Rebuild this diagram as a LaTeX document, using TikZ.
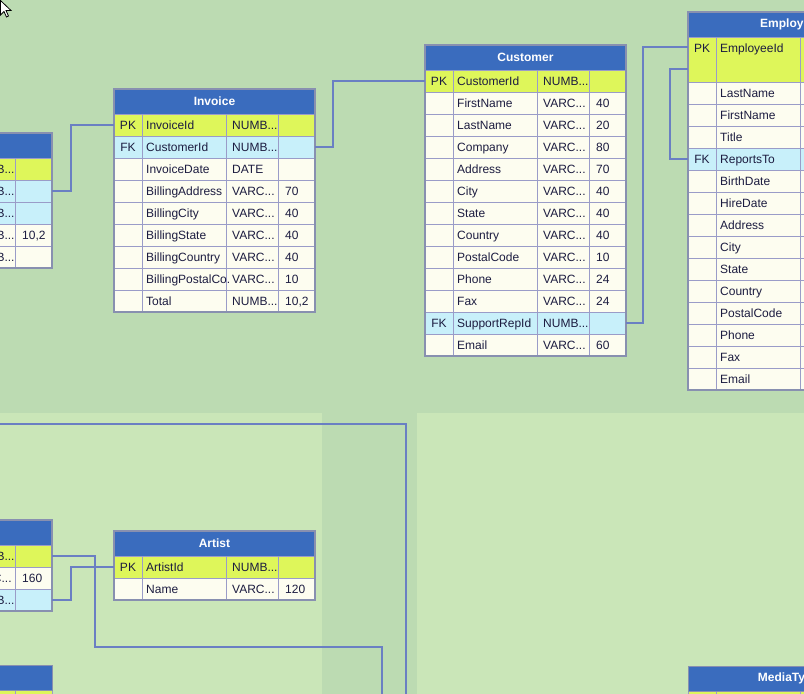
\documentclass[tikz,border=0pt]{standalone}
\usepackage{fontspec}
\setmainfont{Liberation Sans}
\usetikzlibrary{calc}
\definecolor{bgmid}{HTML}{BCDBB2}
\definecolor{bglight}{HTML}{CAE6B8}
\definecolor{hdrblue}{HTML}{3A6CBE}
\definecolor{pkfill}{HTML}{DEF65A}
\definecolor{fkfill}{HTML}{C8F0FA}
\definecolor{plainfill}{HTML}{FDFDF0}
\definecolor{cellline}{HTML}{9A9CC8}
\definecolor{tabborder}{HTML}{8890B0}
\definecolor{connblue}{HTML}{6A7FC3}
\definecolor{txt}{HTML}{1C1C40}
\tikzset{
 rowbox/.style={draw=cellline, line width=1pt, minimum width=201pt, anchor=north west, inner sep=0pt, outer sep=0pt},
 pkrow/.style={fill=pkfill}, fkrow/.style={fill=fkfill}, plainrow/.style={fill=plainfill},
 sepline/.style={draw=cellline, line width=1pt},
 celltext/.style={anchor=west, inner sep=0pt, text height=8.6pt, text depth=0pt, text=txt, font=\fontsize{12}{14}\selectfont},
 keytext/.style={celltext, anchor=center},
 headbox/.style={draw=tabborder, fill=hdrblue, line width=1pt, minimum width=201pt, minimum height=25pt, anchor=north west, inner sep=0pt, outer sep=0pt, text=white, font=\bfseries\fontsize{12}{14}\selectfont},
 tabframe/.style={draw=tabborder, line width=1.6pt},
 conn/.style={draw=connblue, line width=1.6pt}
}
% #1 name #2 x #3 y #4 fill style #5 key #6 field #7 type #8 size #9 height
\newcommand\erow[9]{%
 \node[rowbox,#4,minimum height=#9pt] (#1) at (#2,#3) {};
 \draw[sepline] (#2+28,#3) -- ++(0,#9) (#2+112,#3) -- ++(0,#9) (#2+164,#3) -- ++(0,#9);
 \node[keytext] (#1k) at (#2+14,#3+11) {#5};
 \node[celltext] (#1f) at (#2+32,#3+11) {#6};
 \node[celltext] (#1t) at (#2+118,#3+11) {#7};
 \node[celltext] (#1s) at (#2+171,#3+11) {#8};
}
\newcommand\ehead[4]{\node[headbox] (#1) at (#2,#3) {#4};}
\newcommand\eframe[3]{\draw[tabframe] (#1,#2) rectangle (#1+201,#3);}
\begin{document}
\begin{tikzpicture}[x=1pt,y=-1pt]
\useasboundingbox (0,0) rectangle (804,694);
\clip (0,0) rectangle (804,694);
% background
\fill[bgmid] (0,0) rectangle (804,694);
\fill[bglight] (0,413) rectangle (322,694);
\fill[bglight] (417,413) rectangle (804,694);
% free ends
\coordinate (c6end) at (382,700);
\coordinate (c7a) at (-10,424);
\coordinate (c7b) at (406,700);
% ---------------- InvoiceLine (cut off left)
\ehead{ilh}{-149}{133}{}
\erow{il1}{-149}{158}{pkrow}{}{}{NUMB...}{}{22}
\erow{il2}{-149}{180}{fkrow}{}{}{NUMB...}{}{22}
\erow{il3}{-149}{202}{fkrow}{}{}{NUMB...}{}{22}
\erow{il4}{-149}{224}{plainrow}{}{}{NUMB...}{10,2}{22}
\erow{il5}{-149}{246}{plainrow}{}{}{NUMB...}{}{22}
\eframe{-149}{133}{268}
% ---------------- Invoice
\ehead{invh}{114}{89}{Invoice}
\erow{inv1}{114}{114}{pkrow}{PK}{InvoiceId}{NUMB...}{}{22}
\erow{inv2}{114}{136}{fkrow}{FK}{CustomerId}{NUMB...}{}{22}
\erow{inv3}{114}{158}{plainrow}{}{InvoiceDate}{DATE}{}{22}
\erow{inv4}{114}{180}{plainrow}{}{BillingAddress}{VARC...}{70}{22}
\erow{inv5}{114}{202}{plainrow}{}{BillingCity}{VARC...}{40}{22}
\erow{inv6}{114}{224}{plainrow}{}{BillingState}{VARC...}{40}{22}
\erow{inv7}{114}{246}{plainrow}{}{BillingCountry}{VARC...}{40}{22}
\erow{inv8}{114}{268}{plainrow}{}{BillingPostalCo.}{VARC...}{10}{22}
\erow{inv9}{114}{290}{plainrow}{}{Total}{NUMB...}{10,2}{22}
\eframe{114}{89}{312}
% ---------------- Customer
\ehead{cush}{425}{45}{Customer}
\erow{cus1}{425}{70}{pkrow}{PK}{CustomerId}{NUMB...}{}{22}
\erow{cus2}{425}{92}{plainrow}{}{FirstName}{VARC...}{40}{22}
\erow{cus3}{425}{114}{plainrow}{}{LastName}{VARC...}{20}{22}
\erow{cus4}{425}{136}{plainrow}{}{Company}{VARC...}{80}{22}
\erow{cus5}{425}{158}{plainrow}{}{Address}{VARC...}{70}{22}
\erow{cus6}{425}{180}{plainrow}{}{City}{VARC...}{40}{22}
\erow{cus7}{425}{202}{plainrow}{}{State}{VARC...}{40}{22}
\erow{cus8}{425}{224}{plainrow}{}{Country}{VARC...}{40}{22}
\erow{cus9}{425}{246}{plainrow}{}{PostalCode}{VARC...}{10}{22}
\erow{cus10}{425}{268}{plainrow}{}{Phone}{VARC...}{24}{22}
\erow{cus11}{425}{290}{plainrow}{}{Fax}{VARC...}{24}{22}
\erow{cus12}{425}{312}{fkrow}{FK}{SupportRepId}{NUMB...}{}{22}
\erow{cus13}{425}{334}{plainrow}{}{Email}{VARC...}{60}{22}
\eframe{425}{45}{356}
% ---------------- Employee
\ehead{emph}{688}{12}{Employee}
\erow{emp1}{688}{37}{pkrow}{PK}{EmployeeId}{}{}{45}
\erow{emp2}{688}{82}{plainrow}{}{LastName}{}{}{22}
\erow{emp3}{688}{104}{plainrow}{}{FirstName}{}{}{22}
\erow{emp4}{688}{126}{plainrow}{}{Title}{}{}{22}
\erow{emp5}{688}{148}{fkrow}{FK}{ReportsTo}{}{}{22}
\erow{emp6}{688}{170}{plainrow}{}{BirthDate}{}{}{22}
\erow{emp7}{688}{192}{plainrow}{}{HireDate}{}{}{22}
\erow{emp8}{688}{214}{plainrow}{}{Address}{}{}{22}
\erow{emp9}{688}{236}{plainrow}{}{City}{}{}{22}
\erow{emp10}{688}{258}{plainrow}{}{State}{}{}{22}
\erow{emp11}{688}{280}{plainrow}{}{Country}{}{}{22}
\erow{emp12}{688}{302}{plainrow}{}{PostalCode}{}{}{22}
\erow{emp13}{688}{324}{plainrow}{}{Phone}{}{}{22}
\erow{emp14}{688}{346}{plainrow}{}{Fax}{}{}{22}
\erow{emp15}{688}{368}{plainrow}{}{Email}{}{}{22}
\eframe{688}{12}{390}
% ---------------- Album (cut off left)
\ehead{albh}{-149}{520}{}
\erow{alb1}{-149}{545}{pkrow}{}{}{NUMB...}{}{22}
\erow{alb2}{-149}{567}{plainrow}{}{}{VARC...}{160}{22}
\erow{alb3}{-149}{589}{fkrow}{}{}{NUMB...}{}{22}
\eframe{-149}{520}{611}
% ---------------- Artist
\ehead{arth}{114}{531}{Artist}
\erow{art1}{114}{556}{pkrow}{PK}{ArtistId}{NUMB...}{}{22}
\erow{art2}{114}{578}{plainrow}{}{Name}{VARC...}{120}{22}
\eframe{114}{531}{600}
% ---------------- Track (cut off)
\erow{trk1}{-149}{690}{pkrow}{}{}{}{}{22}
\ehead{trkh}{-149}{665}{}
% ---------------- MediaType (cut off)
\erow{med1}{688}{691}{pkrow}{}{}{}{}{22}
\ehead{medh}{688}{666}{MediaType}
% ---------------- connectors
\draw[conn] (il2.east) -- ++(19,0) |- (inv1.west);
\draw[conn] (inv2.east) -- ++(18,0) |- (cus1.west);
\draw[conn] (cus12.east) -- ++(17,0) |- ($(emp1.north west)+(0,10)$);
\draw[conn] (emp5.west) -- ++(-18,0) |- ($(emp1.north west)+(0,32)$);
\draw[conn] (alb3.east) -- ++(19,0) |- (art1.west);
\draw[conn] (alb1.east) -- ++(43,0) -- ++(0,91) -| (c6end);
\draw[conn] (c7a) -| (c7b);
% cursor
\draw[black, fill=white, line width=0.8pt, line join=miter] (0.5,0.5) -- (0.5,15) -- (4,11.5) -- (6.5,17) -- (8.5,16) -- (6,10.5) -- (11,10.5) -- cycle;
\end{tikzpicture}
\end{document}
